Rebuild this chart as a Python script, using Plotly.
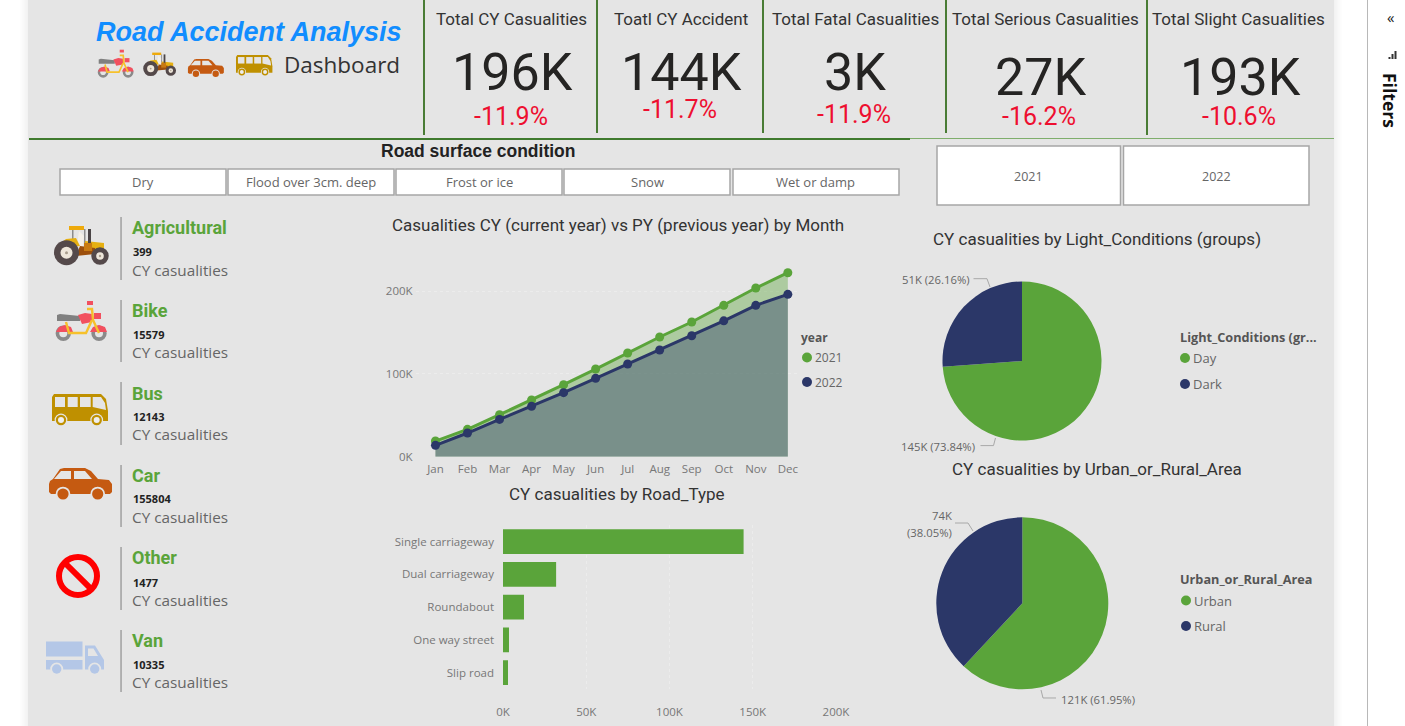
import plotly.graph_objects as go

W, H = 1405, 726

# ---------- data ----------
months = ["Jan", "Feb", "Mar", "Apr", "May", "Jun", "Jul", "Aug", "Sep", "Oct", "Nov", "Dec"]
cy_2021 = [18.9, 33.0, 50.7, 68.4, 86.9, 105.8, 125.2, 144.5, 162.6, 182.7, 203.6, 222.1]
cy_2022 = [13.7, 28.6, 45.0, 60.8, 77.3, 94.6, 111.9, 128.8, 146.0, 164.0, 182.7, 196.0]
month_ticks = [0, 100, 200]
month_tick_labels = ["0K", "100K", "200K"]
road_types = ["Single carriageway", "Dual carriageway", "Roundabout", "One way street", "Slip road"]
road_values = [144.5, 31.9, 12.6, 3.6, 3.0]
road_ticks = [0, 50, 100, 150, 200]
road_tick_labels = ["0K", "50K", "100K", "150K", "200K"]
light_labels = ["Day", "Dark"]
light_share = [73.84, 26.16]
light_text = ["145K (73.84%)", "51K (26.16%)"]
area_labels = ["Urban", "Rural"]
area_share = [61.95, 38.05]
area_text = ["121K (61.95%)", "74K", "(38.05%)"]
kpi_titles = ["Total CY Casualities", "Toatl CY Accident", "Total Fatal Casualities",
              "Total Serious Casualities", "Total Slight Casualities"]
kpi_values = ["196K", "144K", "3K", "27K", "193K"]
kpi_deltas = ["-11.9%", "-11.7%", "-11.9%", "-16.2%", "-10.6%"]
vehicles = ["Agricultural", "Bike", "Bus", "Car", "Other", "Van"]
vehicle_counts = [399, 15579, 12143, 155804, 1477, 10335]
surfaces = ["Dry", "Flood over 3cm. deep", "Frost or ice", "Snow", "Wet or damp"]
years = ["2021", "2022"]

# ---------- style ----------
GREEN = "#5aa43a"
NAVY = "#2b3768"
PANEL = "#e5e5e5"
DIN = "Roboto"
SEGOE = "Open Sans"
ARIAL = "Liberation Sans"
AXIS = "#777777"


def X(x):
    return x / W


def Y(y):
    return 1 - y / H


shapes = []
annotations = []


def rect(x0, y0, x1, y1, fill=None, line=None, width=0):
    shapes.append(dict(type="rect", xref="paper", yref="paper", x0=X(x0), x1=X(x1), y0=Y(y0), y1=Y(y1),
                       fillcolor=fill if fill else "rgba(0,0,0,0)",
                       line=dict(color=line if line else "rgba(0,0,0,0)", width=width), layer="below"))


def circ(cx, cy, r, fill=None, line=None, width=0):
    shapes.append(dict(type="circle", xref="paper", yref="paper", x0=X(cx - r), x1=X(cx + r), y0=Y(cy + r), y1=Y(cy - r),
                       fillcolor=fill if fill else "rgba(0,0,0,0)",
                       line=dict(color=line if line else "rgba(0,0,0,0)", width=width), layer="below"))


def poly(pts, fill=None, line=None, width=0, close=True, layer="below"):
    d = "M " + " L ".join(f"{X(a):.5f} {Y(b):.5f}" for a, b in pts) + (" Z" if close else "")
    shapes.append(dict(type="path", xref="paper", yref="paper", path=d,
                       fillcolor=fill if fill else "rgba(0,0,0,0)",
                       line=dict(color=line if line else "rgba(0,0,0,0)", width=width), layer=layer))


def text(s, x, y, size, color="#333333", font=SEGOE, anchor="left", bold=False, italic=False, angle=0):
    style = s
    if bold:
        style = f"<b>{style}</b>"
    if italic:
        style = f"<i>{style}</i>"
    annotations.append(dict(text=style, x=X(x), y=Y(y), xref="paper", yref="paper", xanchor=anchor, yanchor="middle",
                            showarrow=False, textangle=angle, font=dict(size=size, color=color, family=font),
                            borderpad=0, borderwidth=0))


# ---------- icons (primitives in the large-icon pixel frame) ----------
def T(dx, dy, s):
    return lambda x, y: (dx + x * s, dy + y * s)


def tractor(dx=0, dy=0, s=1):
    t = T(dx, dy, s)
    P = lambda pts, c: poly([t(*p) for p in pts], fill=c)
    C = lambda x, y, r, c: circ(*t(x, y), r * s, fill=c)
    P([(72, 229), (73.5, 229), (73.5, 240), (72, 240)], "#8c8c8c")
    P([(84, 229), (85.5, 229), (85.5, 243), (84, 243)], "#8c8c8c")
    P([(69, 226), (84, 226), (84, 230), (69, 230)], "#eeaa0c")
    P([(79, 231), (84, 236), (83, 246), (78, 246), (78, 238)], "#f4f0e8")
    P([(61, 243), (66, 239), (76, 238), (80, 246), (62, 248)], "#e6b012")
    P([(85, 241), (104, 243), (104, 251), (85, 251)], "#e6b012")
    P([(80, 246), (95, 248), (95, 254), (76, 256)], "#9c4f0c")
    P([(84, 243), (92, 243), (92, 251), (84, 251)], "#c87a12")
    P([(88, 229), (91, 229), (91, 243), (88, 243)], "#4a4446")
    C(66.5, 252.7, 12.5, "#54494a")
    C(66.5, 252.7, 6, "#eee6da")
    C(66.5, 252.7, 1.5, "#a89c8c")
    C(100, 256, 8.7, "#54494a")
    C(100, 256, 3.8, "#eee6da")
    C(100, 256, 1.2, "#a89c8c")


def bike(dx=0, dy=0, s=1):
    t = T(dx, dy, s)
    P = lambda pts, c: poly([t(*p) for p in pts], fill=c)
    C = lambda x, y, r, c: circ(*t(x, y), r * s, fill=c)
    L = lambda pts, c, w: poly([t(*p) for p in pts], line=c, width=w * s, close=False)
    C(63.3, 333.3, 7.7, "#8a8a8a")
    C(63.3, 333.3, 4, PANEL)
    C(99, 333.3, 7.7, "#8a8a8a")
    C(99, 333.3, 4, PANEL)
    P([(56, 332), (59, 327), (65, 325), (71, 327), (73, 332)], "#f2505f")
    P([(90, 332), (93, 327), (99, 325), (105, 327), (107, 332)], "#f2505f")
    P([(57, 315), (60, 314), (80, 316), (80, 321), (57, 321)], "#808080")
    P([(78, 315), (85, 313), (92, 314), (92, 322), (82, 324)], "#f2505f")
    P([(94, 313), (101, 313), (101, 319), (94, 319)], "#f2505f")
    L([(66, 322), (69, 333), (86, 333), (92, 320)], "#f6c12c", 2.4)
    L([(87, 309), (92, 309), (93, 320), (99, 333)], "#f6c12c", 2.4)
    P([(87, 301), (93, 301), (93, 305), (87, 305)], "#f2505f")


def bus(dx=0, dy=0, s=1):
    t = T(dx, dy, s)
    P = lambda pts, c: poly([t(*p) for p in pts], fill=c)
    C = lambda x, y, r, c: circ(*t(x, y), r * s, fill=c)
    gold = "#bf9000"
    P([(52, 397), (54, 394), (101, 394), (106, 399), (108, 411), (108, 421), (52, 421)], gold)
    for a, b in [(55, 65), (67.7, 77.7), (80, 90.7)]:
        P([(a, 397), (b, 397), (b, 407), (a, 407)], PANEL)
    P([(92.7, 397), (101, 397), (105, 403), (106, 410), (92.7, 407)], PANEL)
    for x in (61, 96.7):
        C(x, 420, 6.4, PANEL)
        C(x, 420, 5.2, gold)
        C(x, 420, 3, "#eeeeee")


def car(dx=0, dy=0, s=1):
    t = T(dx, dy, s)
    P = lambda pts, c: poly([t(*p) for p in pts], fill=c)
    C = lambda x, y, r, c: circ(*t(x, y), r * s, fill=c)
    col = "#c55a11"
    P([(49, 484), (50, 481), (53, 479), (60, 469), (64, 468), (85, 468), (91, 471), (98, 479),
       (109, 480), (112, 484), (112, 492), (110, 494), (51, 494), (49, 492)], col)
    P([(54, 479), (61, 471), (71, 471), (71, 479)], PANEL)
    P([(74, 471), (85, 471), (92, 479), (74, 479)], PANEL)
    for x in (63, 97.7):
        C(x, 494, 7.3, PANEL)
        C(x, 494, 5.6, col)


def van():
    c = "#b4c7e7"
    rect(46, 641.5, 82.5, 656.5, fill=c)
    rect(46, 660, 82.5, 669.5, fill=c)
    poly([(85, 645.5), (95, 645.5), (104, 660), (104, 669.5), (85, 669.5)], fill=c)
    poly([(88, 648.5), (93.5, 648.5), (98, 656), (88, 656)], fill=PANEL)
    for x in (56.7, 94.7):
        circ(x, 669, 6.5, fill=PANEL)
        circ(x, 669, 4.7, fill=c)


def no_sign():
    circ(78, 576, 19, line="#ff0000", width=6)
    poly([(65, 563), (91, 589)], line="#ff0000", width=6, close=False)


# ---------- page chrome ----------
for i in range(8):
    a = 0.012 + 0.012 * i
    rect(20 + i, 0, 21 + i, H, fill=f"rgba(120,120,120,{a:.3f})")
    rect(1341 - i, 0, 1342 - i, H, fill=f"rgba(120,120,120,{a:.3f})")
rect(28, 0, 1334, H, fill=PANEL)
rect(1367, 0, 1368, H, fill="#b8b8b8")
rect(1368, 0, W, H, fill="#ffffff")

for x, y1 in zip([424, 597, 763, 946, 1147], [135, 133, 133, 133, 135]):
    rect(x - 1, 0, x + 1, y1, fill="#4a7c35")
rect(29, 138, 910, 140, fill="#3f7a2e")
rect(910, 138, 1334, 139, fill="#7fae6c")

# header
text("Road Accident Analysis", 248.5, 32, 27, "#118dff", ARIAL, "center", bold=True, italic=True)
text("Dashboard", 342, 65, 22.5, "#333333", SEGOE, "center")
bike(58.8, -161, 0.7)
tractor(110.8, -83, 0.6)
car(160, -207.8, 0.57)
bus(202.2, -201, 0.65)

# KPI cards
kpi_cx = [512.5, 681.5, 855, 1040.5, 1240]
kpi_title_cx = [511, 681, 855, 1045, 1238]
kpi_val_y = [73, 73, 73, 78, 78]
kpi_delta_y = [116, 110, 114, 116, 116]
for i in range(5):
    text(kpi_titles[i], kpi_title_cx[i], 19.5, 17, "#333333", DIN, "center")
    text(kpi_values[i], kpi_cx[i], kpi_val_y[i], 52, "#252423", DIN, "center")
    text(kpi_deltas[i], kpi_cx[i] - 1.5, kpi_delta_y[i], 25, "#ee0f30", DIN, "center")

# slicers
text("Road surface condition", 478, 151, 17.5, "#222222", ARIAL, "center", bold=True)
surface_x = [(60, 226), (228, 394), (396, 562), (564, 730), (733, 899)]
for (a, b), s in zip(surface_x, surfaces):
    rect(a, 169, b, 195, fill="#ffffff", line="#a6a6a6", width=1.5)
    text(s, (a + b) / 2, 182, 13, "#666666", SEGOE, "center")
year_x = [(937, 1120.5), (1123.5, 1309)]
for (a, b), s in zip(year_x, years):
    rect(a, 146, b, 205, fill="#ffffff", line="#a6a6a6", width=1.5)
    text(s, (a + b) / 2, 176, 12.5, "#666666", SEGOE, "center")

# vehicle list
name_y = [227.5, 310.5, 393.5, 475.5, 557.5, 640.5]
count_y = [251, 334, 416, 498, 582, 664]
cy_y = [270, 352, 434, 517, 600, 682]
sep = [(217, 280), (300, 362), (382, 445), (465, 527), (547, 610), (630, 692)]
for i in range(6):
    rect(120.3, sep[i][0], 121.8, sep[i][1], fill="#a0a0a0")
    text(vehicles[i], 132, name_y[i], 18, GREEN, DIN, "left", bold=True)
    text(str(vehicle_counts[i]), 132.5, count_y[i], 11, "#222222", SEGOE, "left", bold=True)
    text("CY casualities", 132, cy_y[i], 15.3, "#666666", SEGOE, "left")
tractor()
bike()
bus()
car()
no_sign()
van()

# chart titles
text("Casualities CY (current year) vs PY (previous year) by Month", 618, 225.5, 17, "#333333", DIN, "center")
text("CY casualities by Road_Type", 616.5, 493.5, 17, "#333333", DIN, "center")
text("CY casualities by Light_Conditions (groups)", 1096.5, 238.5, 17, "#333333", DIN, "center")
text("CY casualities by Urban_or_Rural_Area", 1096.5, 468.5, 17, "#333333", DIN, "center")

# legends
text("year", 801.5, 338, 12, "#555555", SEGOE, "left", bold=True)
for yy, col, s in zip([357.5, 382], [GREEN, NAVY], years):
    circ(807, yy, 5, fill=col)
    text(s, 814.5, yy, 12, "#666666", SEGOE, "left")
text("Light_Conditions (gr...", 1179.5, 336.5, 12.7, "#555555", SEGOE, "left", bold=True)
for yy, col, s in zip([358, 384], [GREEN, NAVY], light_labels):
    circ(1185, yy, 5, fill=col)
    text(s, 1193, yy, 13, "#666666", SEGOE, "left")
text("Urban_or_Rural_Area", 1180, 579, 12.7, "#555555", SEGOE, "left", bold=True)
for yy, col, s in zip([600.5, 626], [GREEN, NAVY], area_labels):
    circ(1186, yy, 5, fill=col)
    text(s, 1193.5, yy, 13, "#666666", SEGOE, "left")

# pie labels and leader lines
LEAD = "#a8a8a8"
text(light_text[1], 970, 279.5, 11.3, "#666666", SEGOE, "right")
poly([(973.5, 278.7), (987, 278.7), (990, 287)], line=LEAD, width=1, close=False)
text(light_text[0], 975.5, 446.5, 11.3, "#666666", SEGOE, "right")
poly([(980.5, 445.6), (993.5, 445.6), (995.5, 438)], line=LEAD, width=1, close=False)
text(area_text[1], 951.5, 515.5, 11.3, "#666666", SEGOE, "right")
text(area_text[2], 951.5, 532.5, 11.3, "#666666", SEGOE, "right")
poly([(955, 523), (968, 523), (973, 531)], line=LEAD, width=1, close=False)
text(area_text[0], 1061, 699, 11.3, "#666666", SEGOE, "left")
poly([(1056, 698), (1043, 698), (1041, 690)], line=LEAD, width=1, close=False)

# sidebar
text("«", 1390, 17, 15, "#222222", SEGOE, "center")
for x, h in [(1388.5, 2), (1391.5, 5), (1394.5, 8)]:
    rect(x, 59 - h, x + 2, 59, fill="#333333")
text("Filters", 1390, 100, 17.5, "#111111", SEGOE, "center", bold=True, angle=90)

# ---------- charts ----------
fig = go.Figure()
fig.add_trace(go.Scatter(x=months, y=cy_2021, name="2021", mode="lines+markers", fill="tozeroy",
                         fillcolor="rgba(90,164,58,0.40)", line=dict(color=GREEN, width=3),
                         marker=dict(color=GREEN, size=9), xaxis="x", yaxis="y", showlegend=False))
fig.add_trace(go.Scatter(x=months, y=cy_2022, name="2022", mode="lines+markers", fill="tozeroy",
                         fillcolor="rgba(43,55,104,0.40)", line=dict(color=NAVY, width=3),
                         marker=dict(color=NAVY, size=9), xaxis="x", yaxis="y", showlegend=False))
fig.add_trace(go.Bar(x=road_values, y=road_types, orientation="h", marker=dict(color=GREEN, line=dict(width=0)),
                     width=0.76, xaxis="x2", yaxis="y2", showlegend=False))
fig.add_trace(go.Pie(labels=light_labels, values=light_share, sort=False, direction="clockwise", rotation=0,
                     textinfo="none", marker=dict(colors=[GREEN, NAVY], line=dict(width=0)), showlegend=False,
                     domain=dict(x=[X(942.5), X(1101.5)], y=[Y(440.5), Y(281.5)])))
fig.add_trace(go.Pie(labels=area_labels, values=area_share, sort=False, direction="clockwise", rotation=0,
                     textinfo="none", marker=dict(colors=[GREEN, NAVY], line=dict(width=0)), showlegend=False,
                     domain=dict(x=[X(936.3), X(1108.3)], y=[Y(689.3), Y(517.3)])))

tick = dict(size=11.5, color=AXIS, family=SEGOE)
GRID = dict(showgrid=True, gridcolor="#ececec", griddash="dot", gridwidth=1, zeroline=False, showline=False, ticks="",
            automargin=False)
fig.update_layout(
    margin=dict(l=0, r=0, t=0, b=0),
    paper_bgcolor="#ffffff", plot_bgcolor="rgba(0,0,0,0)", showlegend=False,
    shapes=shapes, annotations=annotations,
    xaxis=dict(domain=[X(415.6), X(800)], range=[-0.62, 11.38], type="category", categoryorder="array",
               categoryarray=months, showgrid=False, zeroline=False, showline=False, ticks="", automargin=False,
               tickfont=tick, ticklabelstandoff=4, anchor="y"),
    yaxis=dict(domain=[Y(456.7), Y(265)], range=[0, 231.4], tickmode="array", tickvals=month_ticks,
               ticktext=month_tick_labels, tickfont=tick, ticklabelstandoff=2, anchor="x", **GRID),
    xaxis2=dict(domain=[X(503), X(836)], range=[0, 200], tickmode="array", tickvals=road_ticks,
                ticktext=road_tick_labels, tickfont=tick, ticklabelstandoff=14, anchor="y2", **GRID),
    yaxis2=dict(domain=[Y(689), Y(525.2)], range=[4.5, -0.5], type="category", categoryorder="array",
                categoryarray=road_types, showgrid=False, zeroline=False, showline=False, ticks="", automargin=False,
                tickfont=tick, ticklabelstandoff=8, anchor="x2"),
)

fig.write_html("out.html", config=dict(displayModeBar=False),
               post_script="document.documentElement.style.height='100%';document.body.style.margin='0';"
                           "document.body.style.height='100%';document.body.style.overflow='hidden';"
                           "window.dispatchEvent(new Event('resize'));")
